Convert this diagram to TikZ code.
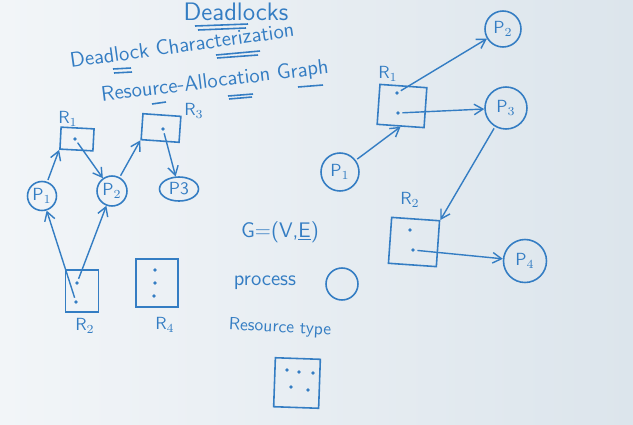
\documentclass[tikz,border=0pt]{standalone}
\usepackage{tikz}
\usetikzlibrary{arrows.meta, positioning, calc, shapes.geometric}
\definecolor{InkBlue}{RGB}{52, 125, 195}
\definecolor{BoardLeft}{RGB}{242, 245, 248}
\definecolor{BoardRight}{RGB}{220, 229, 236}

\begin{document}
\begin{tikzpicture}[x=0.02cm, y=-0.02cm, line width=0.9pt, color=InkBlue, font=\sffamily,
    proc/.style={circle, draw=InkBlue, inner sep=0pt, minimum size=#1},
    proc/.default=0.6cm,
    res/.style={draw=InkBlue, inner sep=0pt},
    pip/.style={circle, fill=InkBlue, inner sep=0pt, minimum size=2.2pt},
    edge/.style={-{Straight Barb[length=5pt, width=6pt]}, line width=0.8pt, shorten <=1pt}]
        % board
        \shade[left color=BoardLeft, right color=BoardRight] (0,0) rectangle (633,424);
        \useasboundingbox (0,0) rectangle (633,424);

        % headings
        \node[font=\sffamily\Large, inner sep=0pt] (title) at (236,12) {Deadlocks};
        \draw (195,26) -- (248,24) (198,30) -- (246,28);
        \node[font=\sffamily\large, rotate=8, inner sep=0pt] (charac) at (182,45) {Deadlock Characterization};
        \draw (113,69) -- (131,68) (114,73) -- (132,72);
        \draw (216,55) -- (260,51) (217,58) -- (258,55);
        \node[font=\sffamily\large, rotate=7, inner sep=0pt] (rag) at (215,82) {Resource-Allocation Graph};
        \draw (228,96) -- (253,94) (229,99) -- (252,97);
        \draw (298,87) -- (323,85);
        \draw (152,104) -- (166,102);

        % left graph
        \node[res, minimum width=0.66cm, minimum height=0.44cm, rotate=-3] (lR1) at (77,139) {};
        \node[pip] (lr1d) at (75,139) {};
        \node (lR1lab) at (68,119) {R$_1$};
        \node[res, minimum width=0.76cm, minimum height=0.52cm, rotate=-4] (lR3) at (161,128) {};
        \node[pip] (lr3d) at (163,129) {};
        \node (lR3lab) at (194,111) {R$_3$};
        \node[proc=0.58cm] (lP1) at (42,196) {P$_1$};
        \node[proc] (lP2) at (112,191) {P$_2$};
        \node[ellipse, draw=InkBlue, inner sep=0pt, minimum width=0.78cm, minimum height=0.48cm] (lP3) at (179,189) {P3};
        \node[res, minimum width=0.66cm, minimum height=0.84cm] (lR2) at (82,291) {};
        \node[pip] (lr2a) at (77,283) {};
        \node[pip] (lr2b) at (76,302) {};
        \node (lR2lab) at (85,326) {R$_2$};
        \node[res, minimum width=0.84cm, minimum height=0.96cm] (lR4) at (157,283) {};
        \node[pip] (lr4a) at (155,270) {};
        \node[pip] (lr4b) at (155,283) {};
        \node[pip] (lr4c) at (154,296) {};
        \node (lR4lab) at (165,325) {R$_4$};

        \draw[edge] (lP1) -- (lR1.south west);
        \draw[edge] (lr1d) -- (lP2);
        \draw[edge] (lP2) -- (lR3.south west);
        \draw[edge] (lr3d) -- (lP3);
        \draw[edge] (lr2b) -- (lP1);
        \draw[edge] (lr2a) -- (lP2);

        % notation
        \node[font=\sffamily\large] (graph) at (280,232) {G=(V,\underline{E})};
        \node[font=\sffamily\large] (proclab) at (265,283) {process};
        \node[proc=0.64cm] (procsym) at (342,284) {};
        \node[rotate=-3] (reslab) at (280,328) {Resource type};
        \node[res, minimum width=0.9cm, minimum height=0.98cm, rotate=-2] (ressym) at (297,383) {};
        \foreach \px/\py in {287/370, 299/372, 313/373, 291/387, 308/390}
          \node[pip] at (\px,\py) {};

        % right graph
        \node[res, minimum width=0.94cm, minimum height=0.8cm, rotate=-4] (rR1) at (402,106) {};
        \node[pip] (rr1a) at (397,93) {};
        \node[pip] (rr1b) at (398,113) {};
        \node (rR1lab) at (388,74) {R$_1$};
        \node[proc=0.72cm] (rP2) at (503,29) {P$_2$};
        \node[proc=0.84cm] (rP3) at (506,108) {P$_3$};
        \node[proc=0.76cm] (rP1) at (340,172) {P$_1$};
        \node[res, minimum width=0.96cm, minimum height=0.92cm, rotate=-4] (rR2) at (414,242) {};
        \node[pip] (rr2a) at (410,230) {};
        \node[pip] (rr2b) at (413,250) {};
        \node (rR2lab) at (410,200) {R$_2$};
        \node[proc=0.86cm] (rP4) at (525,261) {P$_4$};

        \draw[edge] (rP1) -- (rR1.south);
        \draw[edge] (rr1a) -- (rP2);
        \draw[edge] (rr1b) -- (rP3);
        \draw[edge] (rP3) -- (rR2.north east);
        \draw[edge] (rr2b) -- (rP4);
\end{tikzpicture}
\end{document}
